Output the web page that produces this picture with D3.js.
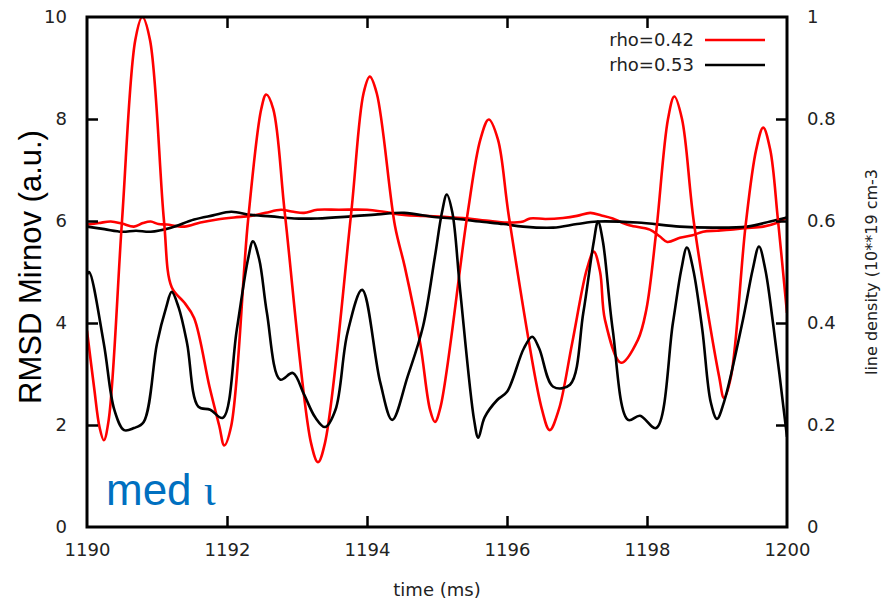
<!DOCTYPE html>
<html>
<head>
<meta charset="utf-8">
<script src="https://cdn.jsdelivr.net/npm/d3@7"></script>
<style>
  html, body { margin: 0; padding: 0; background: #fff; }
  svg { display: block; }
</style>
</head>
<body>
<svg id="chart" width="885" height="606"></svg>
<script>
// Mirnov RMSD (a.u.) versus time (ms), two radial positions
const mirnovRho042 = [
  [1190.00, 3.85], [1190.10, 2.75], [1190.18, 1.95], [1190.24, 1.70], [1190.31, 2.10],
  [1190.50, 6.00], [1190.69, 9.55], [1190.79, 10.00], [1190.90, 9.55], [1191.10, 6.00],
  [1191.21, 4.70], [1191.39, 4.40], [1191.53, 4.10], [1191.75, 2.75], [1191.89, 1.98],
  [1191.96, 1.60], [1192.06, 1.98], [1192.30, 6.00], [1192.49, 8.20], [1192.56, 8.48],
  [1192.66, 8.20], [1192.83, 6.10], [1193.20, 1.65], [1193.30, 1.27], [1193.40, 1.65],
  [1193.77, 6.10], [1193.95, 8.50], [1194.04, 8.83], [1194.14, 8.50], [1194.40, 5.90],
  [1194.54, 5.10], [1194.76, 3.60], [1194.90, 2.30], [1194.97, 2.06], [1195.05, 2.35],
  [1195.43, 6.08], [1195.62, 7.60], [1195.74, 7.99], [1195.87, 7.60], [1196.03, 6.06],
  [1196.50, 2.30], [1196.61, 1.90], [1196.74, 2.30], [1196.93, 3.60], [1197.14, 5.05],
  [1197.24, 5.40], [1197.33, 5.00], [1197.40, 4.06], [1197.63, 3.22], [1197.87, 3.67],
  [1197.99, 4.26], [1198.13, 5.77], [1198.30, 8.00], [1198.39, 8.44], [1198.50, 8.00],
  [1198.67, 5.97], [1199.03, 2.95], [1199.10, 2.53], [1199.20, 2.95], [1199.41, 5.93],
  [1199.56, 7.40], [1199.66, 7.83], [1199.76, 7.40], [1199.87, 6.03], [1200.00, 4.20]
];
const mirnovRho053 = [
  [1190.00, 4.95], [1190.03, 5.00], [1190.24, 3.60], [1190.39, 2.30], [1190.53, 1.90],
  [1190.67, 1.94], [1190.81, 2.06], [1191.00, 3.60], [1191.13, 4.30], [1191.21, 4.61],
  [1191.31, 4.30], [1191.43, 3.60], [1191.59, 2.36], [1191.76, 2.30], [1191.94, 2.14],
  [1192.14, 3.87], [1192.30, 5.25], [1192.37, 5.60], [1192.46, 5.25], [1192.57, 4.20],
  [1192.76, 2.89], [1192.94, 3.02], [1193.10, 2.60], [1193.26, 2.15], [1193.40, 1.96],
  [1193.55, 2.30], [1193.72, 3.80], [1193.93, 4.65], [1194.19, 2.83], [1194.36, 2.10],
  [1194.58, 2.95], [1194.80, 3.93], [1194.97, 5.30], [1195.07, 6.16], [1195.14, 6.52],
  [1195.22, 6.16], [1195.33, 4.65], [1195.53, 2.10], [1195.59, 1.75], [1195.68, 2.15],
  [1195.86, 2.49], [1196.00, 2.65], [1196.24, 3.50], [1196.36, 3.73], [1196.46, 3.50],
  [1196.66, 2.75], [1196.90, 2.79], [1197.09, 4.20], [1197.24, 5.60], [1197.30, 5.99],
  [1197.37, 5.60], [1197.51, 3.87], [1197.73, 2.10], [1197.90, 2.18], [1198.13, 1.94],
  [1198.37, 4.00], [1198.49, 5.05], [1198.57, 5.48], [1198.66, 5.05], [1198.79, 3.87],
  [1198.91, 2.45], [1199.00, 2.12], [1199.10, 2.45], [1199.37, 4.06], [1199.51, 5.05],
  [1199.60, 5.50], [1199.69, 5.05], [1199.80, 4.00], [1200.00, 1.77]
];

// Line density (10**19 cm-3), right axis
const densityRed = [
  [1190.00, 0.593], [1190.17, 0.596], [1190.34, 0.599], [1190.50, 0.595], [1190.67, 0.589],
  [1190.80, 0.596], [1190.91, 0.599], [1191.02, 0.594], [1191.14, 0.593], [1191.39, 0.589],
  [1191.62, 0.597], [1191.86, 0.603], [1192.10, 0.607], [1192.34, 0.610], [1192.55, 0.616],
  [1192.77, 0.622], [1192.95, 0.618], [1193.10, 0.616], [1193.29, 0.622], [1193.60, 0.622],
  [1194.00, 0.622], [1194.24, 0.618], [1194.53, 0.612], [1194.80, 0.610], [1195.10, 0.608],
  [1195.37, 0.606], [1195.70, 0.601], [1196.00, 0.597], [1196.23, 0.599], [1196.33, 0.605],
  [1196.55, 0.604], [1196.80, 0.606], [1197.00, 0.610], [1197.19, 0.616], [1197.35, 0.611],
  [1197.51, 0.605], [1197.64, 0.597], [1197.76, 0.591], [1198.04, 0.583], [1198.18, 0.570],
  [1198.29, 0.559], [1198.47, 0.567], [1198.65, 0.572], [1198.80, 0.579], [1199.00, 0.581],
  [1199.19, 0.583], [1199.40, 0.586], [1199.66, 0.589], [1199.85, 0.596], [1200.00, 0.607]
];
const densityBlack = [
  [1190.00, 0.589], [1190.25, 0.584], [1190.50, 0.579], [1190.70, 0.581], [1190.91, 0.579],
  [1191.20, 0.587], [1191.53, 0.603], [1191.80, 0.611], [1192.06, 0.618], [1192.34, 0.612],
  [1192.63, 0.609], [1192.96, 0.605], [1193.29, 0.605], [1193.77, 0.609], [1194.15, 0.613],
  [1194.53, 0.616], [1194.96, 0.608], [1195.30, 0.604], [1195.61, 0.599], [1195.95, 0.594],
  [1196.23, 0.589], [1196.66, 0.587], [1197.00, 0.594], [1197.29, 0.599], [1197.86, 0.597],
  [1198.47, 0.589], [1198.94, 0.587], [1199.43, 0.589], [1199.76, 0.599], [1200.00, 0.607]
];

const timeTicks = [1190, 1192, 1194, 1196, 1198, 1200];
const leftTicks = [0, 2, 4, 6, 8, 10];
const rightTicks = [0, 0.2, 0.4, 0.6, 0.8, 1];
const legendItems = [
  { label: "rho=0.42", color: "#ff0000" },
  { label: "rho=0.53", color: "#000000" }
];

const svg = d3.select("#chart");
const plotLeft = 87, plotRight = 787, plotTop = 17, plotBottom = 527;
const tickLen = 11;
const tickFont = "'DejaVu Sans', sans-serif";

const x = d3.scaleLinear().domain([1190, 1200]).range([plotLeft, plotRight]);
const yL = d3.scaleLinear().domain([0, 10]).range([plotBottom, plotTop]);
const yR = d3.scaleLinear().domain([0, 1]).range([plotBottom, plotTop]);

svg.append("defs").append("clipPath").attr("id", "plot-clip")
  .append("rect").attr("x", plotLeft).attr("y", plotTop)
  .attr("width", plotRight - plotLeft).attr("height", plotBottom - plotTop);

const plot = svg.append("g").attr("clip-path", "url(#plot-clip)");

const lineL = d3.line().x(d => x(d[0])).y(d => yL(d[1])).curve(d3.curveCatmullRom.alpha(0.5));
const lineR = d3.line().x(d => x(d[0])).y(d => yR(d[1])).curve(d3.curveCatmullRom.alpha(0.5));

function drawSeries(data, gen, color) {
  plot.append("path").datum(data)
    .attr("d", gen)
    .attr("fill", "none")
    .attr("stroke", color)
    .attr("stroke-width", 2.6)
    .attr("stroke-linejoin", "round");
}
drawSeries(densityRed, lineR, "#ff0000");
drawSeries(densityBlack, lineR, "#000000");
drawSeries(mirnovRho042, lineL, "#ff0000");
drawSeries(mirnovRho053, lineL, "#000000");

// Axes with inward ticks
function styleAxis(g, endsHidden) {
  g.select(".domain").remove();
  g.selectAll(".tick line").attr("stroke", "#000").attr("stroke-width", 2.5);
  g.selectAll(".tick text")
    .attr("font-family", tickFont).attr("font-size", 18).attr("fill", "#222");
  if (endsHidden) {
    g.selectAll(".tick line").filter((d, i, n) => i === 0 || i === n.length - 1).remove();
  }
}

svg.append("g").attr("transform", `translate(0,${plotBottom})`)
  .call(d3.axisBottom(x).tickValues(timeTicks).tickFormat(d3.format("d"))
    .tickSizeInner(-tickLen).tickSizeOuter(0).tickPadding(16))
  .call(g => styleAxis(g, true));

svg.append("g").attr("transform", `translate(0,${plotTop})`)
  .call(d3.axisTop(x).tickValues(timeTicks).tickFormat("")
    .tickSizeInner(-tickLen).tickSizeOuter(0))
  .call(g => styleAxis(g, true));

svg.append("g").attr("transform", `translate(${plotLeft},0)`)
  .call(d3.axisLeft(yL).tickValues(leftTicks).tickFormat(d3.format("d"))
    .tickSizeInner(-tickLen).tickSizeOuter(0).tickPadding(20))
  .call(g => styleAxis(g, true));

svg.append("g").attr("transform", `translate(${plotRight},0)`)
  .call(d3.axisRight(yR).tickValues(rightTicks)
    .tickFormat(d => d === 0 || d === 1 ? d3.format("d")(d) : d3.format(".1f")(d))
    .tickSizeInner(-tickLen).tickSizeOuter(0).tickPadding(20))
  .call(g => styleAxis(g, true));

// Frame
svg.append("rect")
  .attr("x", plotLeft).attr("y", plotTop)
  .attr("width", plotRight - plotLeft).attr("height", plotBottom - plotTop)
  .attr("fill", "none").attr("stroke", "#000").attr("stroke-width", 3);

// Axis titles
svg.append("text")
  .attr("x", (plotLeft + plotRight) / 2).attr("y", 596)
  .attr("text-anchor", "middle")
  .attr("font-family", tickFont).attr("font-size", 18).attr("fill", "#222")
  .text("time (ms)");

svg.append("text")
  .attr("transform", `translate(41,267) rotate(-90)`)
  .attr("text-anchor", "middle")
  .attr("font-family", "'Liberation Sans', Arial, sans-serif").attr("font-size", 31).attr("fill", "#000")
  .text("RMSD Mirnov (a.u.)");

svg.append("text")
  .attr("transform", `translate(877,272) rotate(-90)`)
  .attr("text-anchor", "middle")
  .attr("font-family", tickFont).attr("font-size", 16).attr("fill", "#222")
  .text("line density (10**19 cm-3");

// Annotation
const note = svg.append("text")
  .attr("x", 106).attr("y", 505)
  .attr("font-family", "'Liberation Sans', Arial, sans-serif").attr("font-size", 44).attr("fill", "#0070c0");
note.append("tspan").text("med ");
note.append("tspan").attr("font-family", "'Liberation Serif', 'DejaVu Serif', serif").text("ι");

// Legend
const legend = svg.append("g");
legendItems.forEach((item, i) => {
  const ly = 40 + i * 25;
  legend.append("text")
    .attr("x", 694).attr("y", ly).attr("dy", "0.35em")
    .attr("text-anchor", "end")
    .attr("font-family", tickFont).attr("font-size", 18).attr("fill", "#222")
    .text(item.label);
  legend.append("line")
    .attr("x1", 705).attr("x2", 765).attr("y1", ly).attr("y2", ly)
    .attr("stroke", item.color).attr("stroke-width", 2.6);
});
</script>
</body>
</html>
